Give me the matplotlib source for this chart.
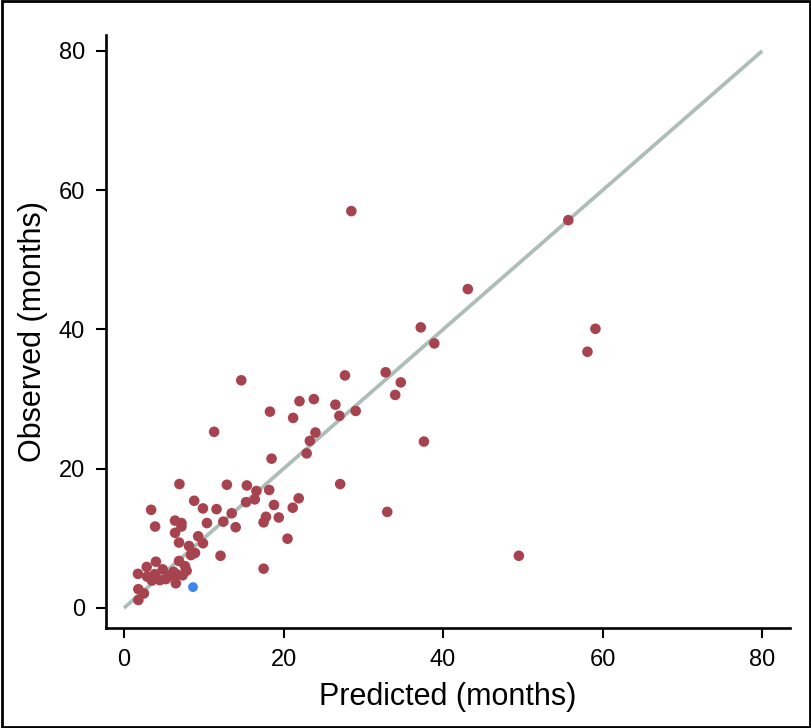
import matplotlib
matplotlib.use("Agg")
import matplotlib.pyplot as plt
from matplotlib.patches import Rectangle

# predicted vs observed survival (months)
predicted = [6.4, 9.3, 6.9, 8.15, 9.9, 8.9, 8.4, 6.9, 4.0, 2.85, 1.75, 4.85, 2.9, 3.85,
             6.2, 7.65, 7.85, 7.35, 6.6, 5.75, 5.25, 4.5, 3.5, 6.5, 1.8, 2.5, 1.8,
             6.95, 8.8, 9.9, 11.6, 3.4, 6.4, 7.2, 7.2, 3.9, 10.4,
             12.9, 15.4, 16.6, 18.2, 16.4, 15.3, 18.8, 21.9, 21.15, 13.5, 17.8, 17.5,
             19.4, 12.45, 14.0, 20.5, 12.1, 17.5,
             27.7, 18.3, 22.0, 23.8, 26.5, 21.2, 27.0, 29.05, 24.0, 23.3, 22.9, 18.5,
             37.2, 38.9, 32.8, 34.7, 34.0, 37.6,
             14.7, 11.3, 28.5, 55.7, 43.1, 59.1, 58.1, 33.0, 49.5, 27.1]
observed = [10.8, 10.3, 9.4, 8.9, 9.3, 7.9, 7.6, 6.75, 6.65, 5.9, 4.9, 5.55, 4.5, 4.85,
            5.2, 6.0, 5.35, 4.7, 4.85, 4.65, 4.15, 4.0, 3.95, 3.55, 2.7, 2.1, 1.15,
            17.8, 15.4, 14.3, 14.2, 14.1, 12.55, 12.2, 11.7, 11.7, 12.2,
            17.7, 17.6, 16.8, 16.95, 15.6, 15.2, 14.8, 15.75, 14.4, 13.6, 13.1, 12.3,
            13.0, 12.4, 11.6, 9.95, 7.5, 5.65,
            33.4, 28.2, 29.7, 30.0, 29.2, 27.3, 27.6, 28.3, 25.2, 24.0, 22.2, 21.45,
            40.3, 38.0, 33.85, 32.4, 30.6, 23.9,
            32.7, 25.3, 57.0, 55.7, 45.8, 40.1, 36.8, 13.8, 7.5, 17.8]
# the single highlighted case
blue_pred = [8.65]
blue_obs = [3.0]
ticks = [0, 20, 40, 60, 80]

plt.rcParams["font.family"] = ["Liberation Sans", "DejaVu Sans"]

fig = plt.figure(figsize=(8.12, 7.28), dpi=100)
ax = fig.add_axes([0.1305, 0.1374, 0.8425, 0.8146])

# identity line
ax.plot([0, 80], [0, 80], color="#adbdb8", lw=2.7, zorder=1, solid_capstyle="butt")
ax.scatter(predicted, observed, s=58, color="#a6434f", edgecolors="none", zorder=2)
ax.scatter(blue_pred, blue_obs, s=50, color="#3d86f2", edgecolors="none", zorder=3)

ax.set_xlim(-2.26, 83.5)
ax.set_ylim(-2.87, 82.3)
ax.set_xticks(ticks)
ax.set_yticks(ticks)
for side in ["top", "right"]:
    ax.spines[side].set_visible(False)
for side in ["left", "bottom"]:
    ax.spines[side].set_linewidth(1.9)
ax.tick_params(direction="out", length=7, width=1.5, labelsize=17, pad=8)
ax.set_xlabel("Predicted (months)", fontsize=22, labelpad=8)
ax.set_ylabel("Observed (months)", fontsize=22, labelpad=8)

# thin black frame around the whole figure
fig.patches.append(Rectangle((0.002, 0.002), 0.996, 0.996, transform=fig.transFigure,
                             fill=False, edgecolor="black", lw=2))

fig.savefig("out.png", dpi=100)
